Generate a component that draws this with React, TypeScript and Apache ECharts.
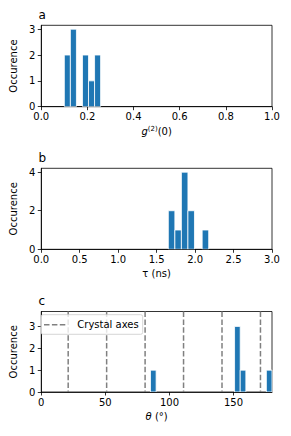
import React, { useEffect, useRef } from 'react';
import * as echarts from 'echarts';

// Panel a: g2(0) histogram
const aBinStart = [0.1, 0.1262, 0.1786, 0.2048, 0.231];
const aBinEnd = [0.1262, 0.1524, 0.2048, 0.231, 0.2572];
const aCounts = [2, 3, 2, 1, 2];
const aTicksX = [0, 0.2, 0.4, 0.6, 0.8, 1.0];
const aTicksY = [0, 1, 2, 3];

// Panel b: lifetime histogram
const bBinStart = [1.652, 1.737, 1.822, 1.907, 2.092];
const bBinEnd = [1.737, 1.822, 1.907, 1.992, 2.177];
const bCounts = [2, 1, 4, 2, 1];
const bTicksX = [0, 0.5, 1.0, 1.5, 2.0, 2.5, 3.0];
const bTicksY = [0, 2, 4];

// Panel c: angle histogram
const cBinStart = [85.2, 150.8, 155.2, 175.6];
const cBinEnd = [89.6, 155.2, 159.6, 180];
const cCounts = [1, 3, 1, 1];
const crystalAxes = [21, 51, 81, 111, 141, 171];
const cTicksX = [0, 50, 100, 150];
const cTicksY = [0, 1, 2, 3];

const FONT = 'DejaVu Sans';
const BAR = '#1f77b4';

function histData(s: number[], e: number[], c: number[]) {
  return s.map((v, i) => [v, e[i], c[i]]);
}

function xAxisCfg(gridIndex: number, max: number, ticks: number[], fmt: (v: number) => string, name: string, rich?: any) {
  return {
    type: 'value',
    gridIndex,
    min: 0,
    max,
    axisLine: { show: true, onZero: false, lineStyle: { color: '#000', width: 0.8 } },
    axisTick: { show: true, inside: false, length: 3.5, lineStyle: { color: '#000', width: 0.8 }, customValues: ticks },
    axisLabel: { customValues: ticks, formatter: fmt, color: '#000', fontSize: 10, fontFamily: FONT, margin: 5 },
    splitLine: { show: false },
    name,
    nameLocation: 'middle',
    nameGap: 19,
    nameTextStyle: { color: '#000', fontSize: 10, fontFamily: FONT, rich },
  };
}

function yAxisCfg(gridIndex: number, max: number, ticks: number[]) {
  return {
    type: 'value',
    gridIndex,
    min: 0,
    max,
    axisLine: { show: true, onZero: false, lineStyle: { color: '#000', width: 0.8 } },
    axisTick: { show: true, inside: false, length: 3.5, lineStyle: { color: '#000', width: 0.8 }, customValues: ticks },
    axisLabel: { customValues: ticks, formatter: (v: number) => String(v), color: '#000', fontSize: 10, fontFamily: FONT, margin: 6 },
    splitLine: { show: false },
    name: 'Occurence',
    nameLocation: 'middle',
    nameGap: 18,
    nameTextStyle: { color: '#000', fontSize: 10, fontFamily: FONT },
  };
}

function barSeries(idx: number, data: number[][]) {
  return {
    type: 'custom',
    xAxisIndex: idx,
    yAxisIndex: idx,
    clip: true,
    encode: { x: [0, 1], y: 2 },
    data,
    renderItem: (params: any, api: any) => {
      const p0 = api.coord([api.value(0), api.value(2)]);
      const p1 = api.coord([api.value(1), 0]);
      return {
        type: 'rect',
        shape: { x: p0[0], y: p0[1], width: p1[0] - p0[0], height: p1[1] - p0[1] },
        style: { fill: BAR, stroke: '#ffffff', lineWidth: 0.8 },
      };
    },
  };
}

export default function App() {
  const ref = useRef<HTMLDivElement>(null);
  useEffect(() => {
    if (!ref.current) return;
    const chart = echarts.init(ref.current, null, { renderer: 'svg' });
    const gridBase = { left: 39, width: 233, show: true, borderColor: '#000', borderWidth: 0.8, backgroundColor: 'transparent' };
    const panelLabel = (t: string, y: number) => ({
      type: 'text',
      x: 38.5,
      y,
      z: 100,
      style: { text: t, fontSize: 12, fontFamily: FONT, fill: '#000', verticalAlign: 'bottom' },
    });
    chart.setOption({
      animation: false,
      backgroundColor: '#fff',
      grid: [
        { ...gridBase, top: 25.3, height: 81.4 },
        { ...gridBase, top: 168.3, height: 81 },
        { ...gridBase, top: 311.5, height: 80.5 },
      ],
      xAxis: [
        xAxisCfg(0, 1.0, aTicksX, (v: number) => v.toFixed(1), '{g|g}{s|(2)}{n|(0)}', {
          g: { fontStyle: 'italic', fontSize: 10, fontFamily: FONT, color: '#000' },
          s: { fontSize: 7, fontFamily: FONT, color: '#000', padding: [0, 0, 5, 0] },
          n: { fontSize: 10, fontFamily: FONT, color: '#000' },
        }),
        xAxisCfg(1, 3.0, bTicksX, (v: number) => v.toFixed(1), 'τ (ns)'),
        xAxisCfg(2, 180, cTicksX, (v: number) => String(v), '{t|θ}{n| (°)}', {
          t: { fontStyle: 'italic', fontSize: 10, fontFamily: FONT, color: '#000' },
          n: { fontSize: 10, fontFamily: FONT, color: '#000' },
        }),
      ],
      yAxis: [yAxisCfg(0, 3.15, aTicksY), yAxisCfg(1, 4.2, bTicksY), yAxisCfg(2, 3.68, cTicksY)],
      series: [
        barSeries(0, histData(aBinStart, aBinEnd, aCounts)),
        barSeries(1, histData(bBinStart, bBinEnd, bCounts)),
        barSeries(2, histData(cBinStart, cBinEnd, cCounts)),
        {
          type: 'custom',
          name: 'Crystal axes',
          xAxisIndex: 2,
          yAxisIndex: 2,
          encode: { x: 0 },
          data: crystalAxes.map((v) => [v]),
          z: 3,
          renderItem: (params: any, api: any) => {
            const x = api.coord([api.value(0), 0])[0];
            const cs = params.coordSys;
            return {
              type: 'line',
              shape: { x1: x, y1: cs.y, x2: x, y2: cs.y + cs.height },
              style: { stroke: '#808080', lineWidth: 1.5, lineDash: [5.5, 2.4] },
            };
          },
        },
      ],
      graphic: [
        panelLabel('a', 21),
        panelLabel('b', 164),
        panelLabel('c', 307),
        {
          type: 'group',
          x: 41,
          y: 314.7,
          z: 100,
          children: [
            {
              type: 'rect',
              z: 100,
              shape: { x: 0, y: 0, width: 101.7, height: 19.6, r: 2 },
              style: { fill: 'rgba(255,255,255,0.8)', stroke: '#cccccc', lineWidth: 0.8 },
            },
            {
              type: 'line',
              z: 101,
              shape: { x1: 3, y1: 10, x2: 26, y2: 10 },
              style: { stroke: '#808080', lineWidth: 1.5, lineDash: [5.5, 2.4] },
            },
            {
              type: 'text',
              z: 101,
              x: 36.3,
              y: 10,
              style: { text: 'Crystal axes', fontSize: 10, fontFamily: FONT, fill: '#000', verticalAlign: 'middle' },
            },
          ],
        },
      ],
    });
    return () => chart.dispose();
  }, []);
  return <div ref={ref} style={{ position: 'fixed', left: 0, top: 0, width: 291, height: 436 }} />;
}
